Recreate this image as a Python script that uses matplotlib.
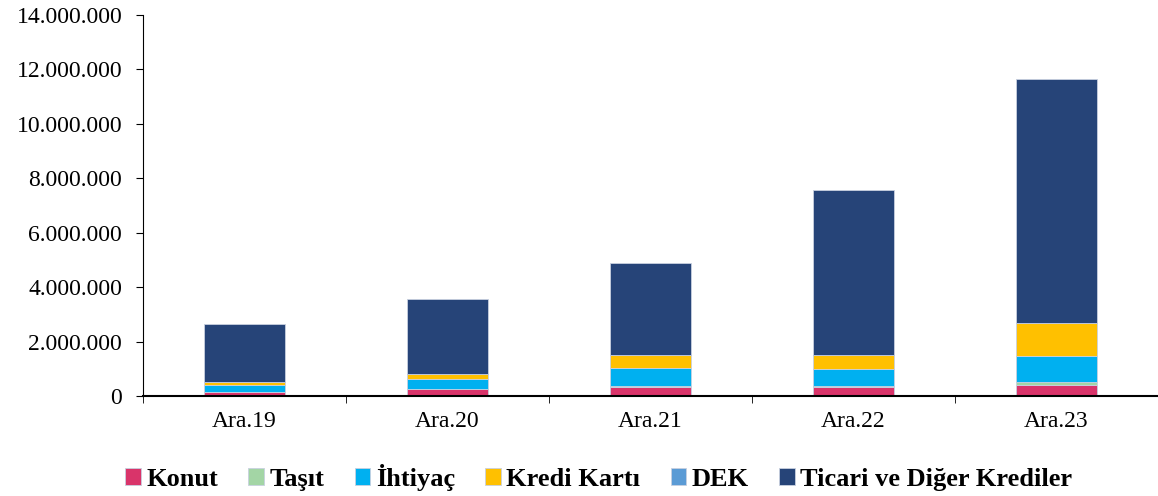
import numpy as np
import matplotlib.pyplot as plt
from matplotlib.ticker import FuncFormatter

plt.rcParams['font.family'] = ['Liberation Serif', 'DejaVu Serif']

donemler = ['Ara.19', 'Ara.20', 'Ara.21', 'Ara.22', 'Ara.23']
konut = [150000, 250000, 330000, 330000, 400000]
tasit = [7000, 10000, 30000, 40000, 120000]
ihtiyac = [260000, 370000, 660000, 640000, 960000]
kredi_karti = [110000, 170000, 480000, 500000, 1200000]
dek = [1000, 1000, 1000, 1000, 1000]
ticari = [2113000, 2770000, 3380000, 6060000, 8960000]

seriler = [
    ('Konut', konut, '#D9346A'),
    ('Taşıt', tasit, '#A3D5A5'),
    ('İhtiyaç', ihtiyac, '#00B0F0'),
    ('Kredi Kartı', kredi_karti, '#FFC000'),
    ('DEK', dek, '#5B9BD5'),
    ('Ticari ve Diğer Krediler', ticari, '#264478'),
]

fig = plt.figure(figsize=(11.58, 4.96), dpi=100)
ax = fig.add_axes([0.1235, 0.2016, 0.8765, 0.768])

x = np.arange(len(donemler))
alt = np.zeros(len(donemler))
for ad, deger, renk in seriler:
    ax.bar(x, deger, 0.40, bottom=alt, color=renk, label=ad,
           edgecolor='#c8d0e0', linewidth=0.6)
    alt += np.array(deger)

ax.set_ylim(0, 14000000)
ax.set_yticks(np.arange(0, 14000001, 2000000))
ax.yaxis.set_major_formatter(FuncFormatter(lambda v, p: f'{int(v):,}'.replace(',', '.')))
ax.set_xlim(-0.5, 4.47)
ax.set_xticks(x)
ax.set_xticklabels(donemler)
ax.set_xticks(np.arange(-0.5, 4.6, 1), minor=True)
ax.tick_params(axis='x', which='major', length=0, labelsize=17, pad=11)
ax.tick_params(axis='x', which='minor', length=5, direction='out')
ax.tick_params(axis='y', labelsize=17, length=5, direction='out', pad=10)

ax.spines['top'].set_visible(False)
ax.spines['right'].set_visible(False)
ax.spines['bottom'].set_linewidth(1.5)

fig.legend(loc='center', bbox_to_anchor=(0.517, 0.038), ncol=6, frameon=False,
           prop={'weight': 'bold', 'size': 19}, handlelength=0.6, handleheight=0.6,
           handletextpad=0.2, columnspacing=1.15)

fig.savefig('out.png', dpi=100)
